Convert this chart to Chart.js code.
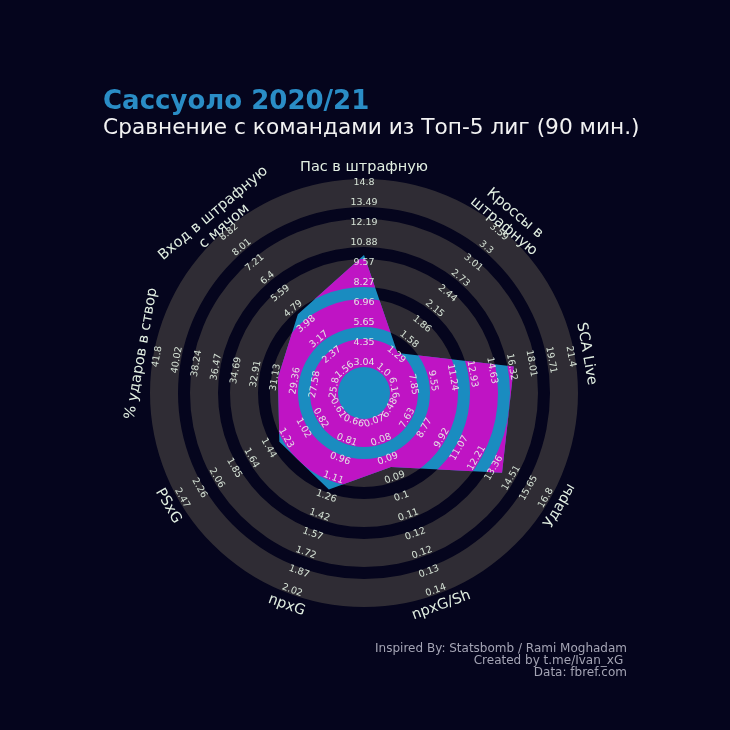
<!DOCTYPE html>
<html>
<head>
<meta charset="utf-8">
<script src="https://cdn.jsdelivr.net/npm/chart.js@4.4.0/dist/chart.umd.min.js"></script>
<style>
  html, body { margin: 0; padding: 0; background: #05051d; }
  #wrap { width: 730px; height: 730px; position: relative; }
</style>
</head>
<body>
<div id="wrap"><canvas id="radar"></canvas></div>
<script>
// axis names, clockwise from the top
const params = [
  ['Пас в штрафную'],
  ['Кроссы в', 'штрафную'],
  ['SCA Live'],
  ['Удары'],
  ['npxG/Sh'],
  ['npxG'],
  ['PSxG'],
  ['% ударов в створ'],
  ['Вход в штрафную', 'с мячом']
];

// tick labels of every axis, from the centre outwards
const ticksPass     = ['3.04', '4.35', '5.65', '6.96', '8.27', '9.57', '10.88', '12.19', '13.49', '14.8'];
const ticksCrosses  = ['1.0', '1.29', '1.58', '1.86', '2.15', '2.44', '2.73', '3.01', '3.3', '3.59'];
const ticksSCA      = ['6.16', '7.85', '9.55', '11.24', '12.93', '14.63', '16.32', '18.01', '19.71', '21.4'];
const ticksShots    = ['6.48', '7.63', '8.77', '9.92', '11.07', '12.21', '13.36', '14.51', '15.65', '16.8'];
const ticksNpxgSh   = ['0.07', '0.08', '0.09', '0.09', '0.1', '0.11', '0.12', '0.12', '0.13', '0.14'];
const ticksNpxg     = ['0.66', '0.81', '0.96', '1.11', '1.26', '1.42', '1.57', '1.72', '1.87', '2.02'];
const ticksPsxg     = ['0.61', '0.82', '1.02', '1.23', '1.44', '1.64', '1.85', '2.06', '2.26', '2.47'];
const ticksOnTarget = ['25.8', '27.58', '29.36', '31.13', '32.91', '34.69', '36.47', '38.24', '40.02', '41.8'];
const ticksCarries  = ['1.56', '2.37', '3.17', '3.98', '4.79', '5.59', '6.4', '7.21', '8.01', '8.82'];

const axisTicks = [ticksPass, ticksCrosses, ticksSCA, ticksShots, ticksNpxgSh,
                   ticksNpxg, ticksPsxg, ticksOnTarget, ticksCarries];

// Sassuolo 2020/21, per 90
const sassuolo = [10.1, 1.32, 16.5, 13.9, 0.089, 1.21, 1.31, 30.9, 4.5];

const RING = '#2f2c34';
const BLUE = '#1a8cc0';
const MAGENTA = '#bf14c4';
const TEXT = 'rgba(232, 246, 232, 0.9)';

// every axis has its own range: first tick sits at 1.5, last one at 10.5
function toRadar(v, i) {
  const lo = parseFloat(axisTicks[i][0]);
  const hi = parseFloat(axisTicks[i][axisTicks[i].length - 1]);
  return 1.5 + 9 * (v - lo) / (hi - lo);
}

function ringPath(ctx, s) {
  ctx.beginPath();
  for (let k = 1; k <= 5; k++) {
    const r1 = s.getDistanceFromCenterForValue(2 * k + 0.7);
    const r0 = s.getDistanceFromCenterForValue(2 * k - 0.7);
    ctx.moveTo(s.xCenter + r1, s.yCenter);
    ctx.arc(s.xCenter, s.yCenter, r1, 0, Math.PI * 2);
    ctx.moveTo(s.xCenter + r0, s.yCenter);
    ctx.arc(s.xCenter, s.yCenter, r0, 0, Math.PI * 2, true);
  }
}

function textAngle(i, n) {
  let a = i * 360 / n;
  if (a > 90 && a < 270) a -= 180;
  return a * Math.PI / 180;
}

const radarDeco = {
  id: 'radarDeco',
  beforeDatasetsDraw(chart) {
    const ctx = chart.ctx, s = chart.scales.r;
    ctx.save();
    ctx.fillStyle = RING;
    ringPath(ctx, s);
    ctx.fill();
    ctx.restore();
  },
  afterDatasetsDraw(chart) {
    const ctx = chart.ctx, s = chart.scales.r;
    const pts = chart.getDatasetMeta(0).data;
    ctx.save();
    ctx.beginPath();
    pts.forEach((p, i) => i ? ctx.lineTo(p.x, p.y) : ctx.moveTo(p.x, p.y));
    ctx.closePath();
    ctx.clip();
    ctx.fillStyle = MAGENTA;
    ringPath(ctx, s);
    ctx.fill();
    ctx.restore();
  },
  afterDraw(chart) {
    const ctx = chart.ctx, s = chart.scales.r;
    const n = params.length;
    ctx.save();
    ctx.textAlign = 'center';
    ctx.textBaseline = 'middle';

    // range labels along each axis
    ctx.fillStyle = TEXT;
    ctx.font = '9.5px "DejaVu Sans"';
    axisTicks.forEach((list, i) => {
      list.forEach((t, j) => {
        const p = s.getPointPosition(i, s.getDistanceFromCenterForValue(j + 1.5));
        ctx.save();
        ctx.translate(p.x, p.y);
        ctx.rotate(textAngle(i, n));
        ctx.fillText(t, 0, 0);
        ctx.restore();
      });
    });

    // axis names
    ctx.fillStyle = '#e2efe2';
    ctx.font = '14.5px "DejaVu Sans"';
    params.forEach((lines, i) => {
      const p = s.getPointPosition(i, s.getDistanceFromCenterForValue(11.3));
      ctx.save();
      ctx.translate(p.x, p.y);
      ctx.rotate(textAngle(i, n));
      const lh = 17;
      lines.forEach((l, k) => ctx.fillText(l, 0, (k - (lines.length - 1) / 2) * lh));
      ctx.restore();
    });

    // titles
    ctx.textAlign = 'left';
    ctx.textBaseline = 'alphabetic';
    ctx.fillStyle = '#2a8dc6';
    ctx.font = 'bold 26px "DejaVu Sans"';
    ctx.fillText('Сассуоло 2020/21', 103, 109);
    ctx.fillStyle = '#f2f2f2';
    ctx.font = '21.7px "DejaVu Sans"';
    ctx.fillText('Сравнение с командами из Топ-5 лиг (90 мин.)', 103, 134);

    // credits
    ctx.textAlign = 'right';
    ctx.fillStyle = '#a4a4b4';
    ctx.font = '12px "DejaVu Sans"';
    ctx.fillText('Inspired By: Statsbomb / Rami Moghadam', 627, 652);
    ctx.fillText('Created by t.me/Ivan_xG ', 627, 664);
    ctx.fillText('Data: fbref.com', 627, 676);
    ctx.restore();
  }
};

new Chart(document.getElementById('radar'), {
  type: 'radar',
  data: {
    labels: params,
    datasets: [{
      label: 'Сассуоло',
      data: sassuolo.map((v, i) => toRadar(v, i)),
      backgroundColor: BLUE,
      borderWidth: 0,
      pointRadius: 0,
      fill: true
    }]
  },
  options: {
    responsive: true,
    maintainAspectRatio: false,
    animation: false,
    layout: { padding: { left: 150, right: 152, top: 179, bottom: 123 } },
    scales: {
      r: {
        min: 0,
        max: 10.7,
        grid: { display: false },
        angleLines: { display: false },
        ticks: { display: false },
        pointLabels: { display: false }
      }
    },
    plugins: {
      legend: { display: false },
      tooltip: { enabled: false }
    }
  },
  plugins: [radarDeco]
});
</script>
</body>
</html>
